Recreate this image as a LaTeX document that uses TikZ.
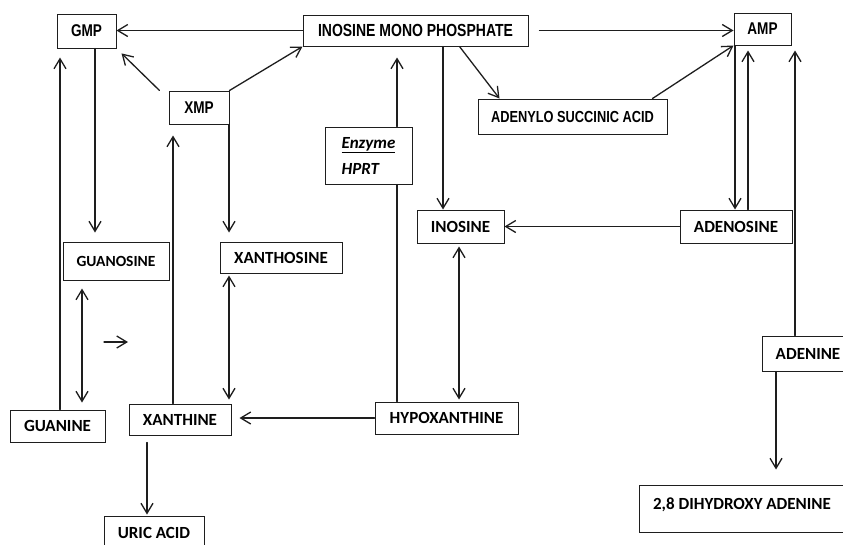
\documentclass[tikz,border=0pt]{standalone}
\usepackage{fontspec}
\setmainfont{Carlito}
\newfontfamily\narrowfont[FakeStretch=0.8]{Liberation Sans}
\usetikzlibrary{arrows.meta,positioning}
\definecolor{linea}{HTML}{1E1E1E}

\begin{document}
\begin{tikzpicture}[x=1pt,y=-1pt,line cap=round,
    caja/.style={draw=linea,line width=1pt,inner sep=0pt,
      font=\bfseries\fontsize{17}{20}\selectfont},
    cajan/.style={caja,font=\narrowfont\bfseries\fontsize{17}{20}\selectfont},
    flecha/.style={draw=linea,line width=1.3pt,-{Straight Barb[length=10pt,width=12pt]}},
    flechas/.style={flecha,{Straight Barb[length=10pt,width=12pt]}-{Straight Barb[length=10pt,width=12pt]}}]
  \useasboundingbox (0,0) rectangle (843,544);
  % nucleotidos (fila de arriba)
  \node[cajan,minimum width=59pt,minimum height=34pt] (gmp) at (86.5,31) {GMP};
  \node[cajan,font=\narrowfont\bfseries\fontsize{17.5}{20}\selectfont,
        minimum width=225pt,minimum height=31pt] (imp) at (415.5,30.5) {INOSINE MONO PHOSPHATE};
  \node[cajan,minimum width=57pt,minimum height=32pt] (amp) at (762.5,29) {AMP};
  \node[cajan,minimum width=60pt,minimum height=33pt] (xmp) at (199,107.5) {XMP};
  \node[cajan,font=\narrowfont\bfseries\fontsize{16}{20}\selectfont,
        minimum width=189pt,minimum height=35pt] (asa) at (572.5,116.5) {ADENYLO SUCCINIC ACID};
  \node[caja,font=\bfseries\itshape\fontsize{17}{26}\selectfont,align=left,
        fill=white,minimum width=87pt,minimum height=57pt] (hprt) at (368.5,155.5)
        {\underline{Enzyme}\\HPRT};
  % nucleosidos
  \node[caja,font=\bfseries\fontsize{15.5}{20}\selectfont,
        minimum width=106pt,minimum height=38pt] (guanosine) at (116,261) {GUANOSINE};
  \node[caja,minimum width=122pt,minimum height=31pt] (xanthosine) at (281,257.5) {XANTHOSINE};
  \node[caja,minimum width=87pt,minimum height=33pt] (inosine) at (460.5,226.5) {INOSINE};
  \node[caja,minimum width=112pt,minimum height=33pt] (adenosine) at (736,226.5) {ADENOSINE};
  % bases
  \node[caja,minimum width=92pt,minimum height=35pt] (adenine) at (808,353.5) {ADENINE};
  \node[caja,minimum width=95pt,minimum height=32pt] (guanine) at (57.5,426) {GUANINE};
  \node[caja,minimum width=102pt,minimum height=31pt] (xanthine) at (180,419.5) {XANTHINE};
  \node[caja,minimum width=143pt,minimum height=32pt] (hypox) at (446.5,418) {HYPOXANTHINE};
  \node[caja,minimum width=100pt,minimum height=34pt] (uric) at (154,533) {URIC ACID};
  \node[caja,minimum width=206pt,minimum height=47pt,text height=11pt,text depth=10pt]
        (dha) at (742,508.5) {2,8 DIHYDROXY ADENINE};
  % carriles verticales
  \coordinate (xGa) at (60,0);
  \coordinate (xGb) at (95,0);
  \coordinate (xGc) at (82,0);
  \coordinate (xXa) at (173,0);
  \coordinate (xXb) at (229,0);
  \coordinate (xUa) at (147,0);
  \coordinate (xHa) at (397,0);
  \coordinate (xIa) at (443,0);
  \coordinate (xIb) at (459,0);
  \coordinate (xAa) at (735,0);
  \coordinate (xAb) at (748,0);
  \coordinate (xAc) at (795,0);
  \coordinate (xAd) at (776,0);
  % flecha suelta
  \coordinate (sa) at (104,342);
  \coordinate (sb) at (128,342);
  % fila de arriba
  \draw[flecha] (imp.west) -- (imp.west -| gmp.east);
  \draw[flecha,shorten <=11pt] (imp.east) -- (imp.east -| amp.west);
  \draw[flecha,shorten >=7pt] ([xshift=-9pt]xmp.north west) -- (gmp.south east);
  \draw[flecha] (xmp.north east) -- (imp.south west);
  \draw[flecha] ([xshift=44pt]imp.south) -- ([xshift=-73pt]asa.north);
  \draw[flecha] ([xshift=-15pt]asa.north east) -- (amp.south west);
  % guanina
  \draw[flecha,shorten >=9pt] (guanine.north -| xGa) -- (gmp.south -| xGa);
  \draw[flecha,shorten >=9pt] (gmp.south -| xGb) -- (guanosine.north -| xGb);
  \draw[flechas,shorten <=8pt,shorten >=7pt] (guanosine.south -| xGc) -- (guanine.north -| xGc);
  \draw[flecha] (sa) -- (sb);
  % xantina
  \draw[flecha,shorten >=11pt] (xanthine.north -| xXa) -- (xmp.south -| xXa);
  \draw[flecha,shorten >=9pt] (xmp.south -| xXb) -- (xanthosine.north -| xXb);
  \draw[flechas,shorten <=2pt,shorten >=4pt] (xanthosine.south -| xXb) -- (xanthine.north -| xXb);
  \draw[flecha,shorten <=7pt,shorten >=1pt] (xanthine.south -| xUa) -- (uric.north -| xUa);
  % hipoxantina
  \draw[draw=linea,line width=1.3pt] (hypox.north -| xHa) -- (hprt.south -| xHa);
  \draw[flecha,shorten >=11pt] (hprt.north -| xHa) -- (imp.south -| xHa);
  \draw[flecha] (imp.south -| xIa) -- (inosine.north -| xIa);
  \draw[flechas,shorten <=3pt,shorten >=2pt] (inosine.south -| xIb) -- (hypox.north -| xIb);
  \draw[flecha,shorten >=8pt] (hypox.west) -- (hypox.west -| xanthine.east);
  % adenina
  \draw[flecha] (adenosine.west) -- (adenosine.west -| inosine.east);
  \draw[flecha] (amp.south -| xAa) -- (adenosine.north -| xAa);
  \draw[flecha,shorten >=5pt] (adenosine.north -| xAb) -- (amp.south -| xAb);
  \draw[flecha,shorten >=5pt] (adenine.north -| xAc) -- (amp.south -| xAc);
  \draw[flecha,shorten >=15pt] (adenine.south -| xAd) -- (dha.north -| xAd);
\end{tikzpicture}
\end{document}
